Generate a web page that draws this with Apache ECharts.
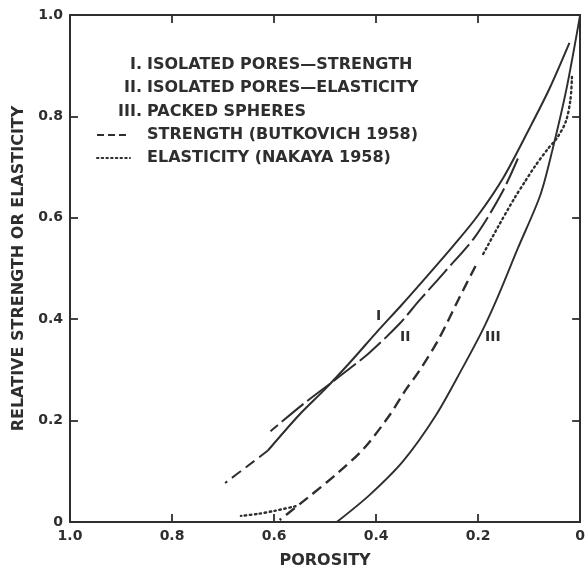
<!DOCTYPE html>
<html>
<head>
<meta charset="utf-8">
<script src="https://cdn.jsdelivr.net/npm/echarts@6/dist/echarts.min.js"></script>
<style>
html,body{margin:0;padding:0;background:#fff;}
#chart{width:588px;height:574px;}
</style>
</head>
<body>
<div id="chart"></div>
<script>
// ---- Data (porosity, relative value) ----
// Curve I: isolated pores — strength (solid)
const curveIPorosity = [0.021, 0.06, 0.10, 0.15, 0.20, 0.25, 0.30, 0.35, 0.40, 0.45, 0.50, 0.55, 0.612];
const curveIValue    = [0.945, 0.855, 0.775, 0.68, 0.605, 0.543, 0.485, 0.428, 0.373, 0.316, 0.262, 0.212, 0.141];
// Dashed extension of curve I at high porosity
const curveIExtPorosity = [0.612, 0.655, 0.696];
const curveIExtValue    = [0.141, 0.108, 0.077];
// Curve II: isolated pores — elasticity (long dash)
const curveIIPorosity = [0.122, 0.153, 0.205, 0.264, 0.316, 0.355, 0.413, 0.477, 0.541, 0.607];
const curveIIValue    = [0.717, 0.650, 0.564, 0.495, 0.436, 0.390, 0.334, 0.283, 0.234, 0.179];
// Curve III: packed spheres (solid)
const curveIIIPorosity = [0.0, 0.027, 0.054, 0.078, 0.122, 0.161, 0.190, 0.231, 0.283, 0.347, 0.413, 0.477];
const curveIIIValue    = [1.0, 0.853, 0.735, 0.645, 0.540, 0.445, 0.381, 0.303, 0.210, 0.120, 0.053, 0.0];
// Strength (Butkovich 1958) — dashed
const butkovichPorosity = [0.205, 0.238, 0.277, 0.316, 0.341, 0.374, 0.424, 0.477, 0.535, 0.589];
const butkovichValue    = [0.505, 0.440, 0.361, 0.297, 0.262, 0.210, 0.145, 0.095, 0.047, 0.004];
// Elasticity (Nakaya 1958) — dotted (two visible stretches)
const nakayaLowPorosity  = [0.558, 0.599, 0.632, 0.665];
const nakayaLowValue     = [0.031, 0.022, 0.016, 0.012];
const nakayaHighPorosity = [0.016, 0.019, 0.028, 0.045, 0.064, 0.089, 0.109, 0.128, 0.161, 0.192];
const nakayaHighValue    = [0.878, 0.833, 0.790, 0.758, 0.735, 0.701, 0.670, 0.640, 0.582, 0.525];

// Tick labels
const xTickLabels = {'1':'1.0','0.8':'0.8','0.6':'0.6','0.4':'0.4','0.2':'0.2','0':'0'};
const yTickLabels = {'1':'1.0','0.8':'0.8','0.6':'0.6','0.4':'0.4','0.2':'0.2','0':'0'};

// Curve labels (position in data coords)
const curveLabels = [
  {name:'I',   porosity:0.395, value:0.405},
  {name:'II',  porosity:0.343, value:0.365},
  {name:'III', porosity:0.171, value:0.365}
];

// Legend texts
const legendRoman = ['I.', 'II.', 'III.', '', ''];
const legendTexts = ['ISOLATED PORES—STRENGTH', 'ISOLATED PORES—ELASTICITY', 'PACKED SPHERES',
                     'STRENGTH (BUTKOVICH 1958)', 'ELASTICITY (NAKAYA 1958)'];

function zip(xs, ys){ return xs.map((x,i)=>[x, ys[i]]); }
function fmt(map){ return v => { const k = String(Math.round(v*10)/10); return map[k] !== undefined ? map[k] : ''; }; }

const INK = '#2e2e2e';
const FONT = '"DejaVu Sans", "Liberation Sans", sans-serif';

const chart = echarts.init(document.getElementById('chart'), null, {renderer:'canvas'});

function axisCommon(){
  return {
    type:'value', min:0, max:1, interval:0.2,
    splitLine:{show:false},
    axisLine:{show:true, onZero:false, lineStyle:{color:INK, width:2}},
    axisTick:{show:true, inside:true, length:8, lineStyle:{color:INK, width:1.8}}
  };
}

const lineSeries = (name, data, type, width) => ({
  name, type:'line', data, symbol:'none', smooth:0.3,
  lineStyle:{color:INK, width: width || 1.9, type: type, cap:'butt'},
  z: 3, animation:false
});

const labelPoints = curveLabels.map(c => ({
  coord:[c.porosity, c.value], symbol:'circle', symbolSize:0,
  label:{show:true, formatter:c.name, position:'inside', color:INK, fontFamily:FONT, fontWeight:'bold', fontSize:14}
}));

const legendGraphics = [];
const rowY = [65, 88, 112, 135, 158];
legendTexts.forEach((t,i)=>{
  if (legendRoman[i]) legendGraphics.push({type:'text', x:142, y:rowY[i],
    style:{text:legendRoman[i], align:'right', verticalAlign:'middle', fill:INK, font:'bold 16px '+FONT}});
  legendGraphics.push({type:'text', x:147, y:rowY[i],
    style:{text:t, align:'left', verticalAlign:'middle', fill:INK, font:'bold 16px '+FONT}});
});
legendGraphics.push({type:'line', shape:{x1:97, y1:rowY[3], x2:129, y2:rowY[3]},
  style:{stroke:INK, lineWidth:1.8, lineDash:[7,4]}});
legendGraphics.push({type:'line', shape:{x1:97, y1:rowY[4], x2:130, y2:rowY[4]},
  style:{stroke:INK, lineWidth:2, lineDash:[1.5,3.2], lineCap:'round'}});

chart.setOption({
  animation:false,
  backgroundColor:'#ffffff',
  grid:{left:70, right:2, top:15, bottom:50},
  xAxis:[
    Object.assign(axisCommon(), {position:'bottom', inverse:true,
      name:'POROSITY', nameLocation:'middle', nameGap:31,
      nameTextStyle:{color:INK, fontFamily:FONT, fontWeight:'bold', fontSize:16},
      axisLabel:{color:INK, fontFamily:FONT, fontWeight:'bold', fontSize:14, margin:7, formatter:fmt(xTickLabels)}}),
    Object.assign(axisCommon(), {position:'top', inverse:true, axisLabel:{show:false}})
  ],
  yAxis:[
    Object.assign(axisCommon(), {position:'left',
      name:'RELATIVE STRENGTH OR ELASTICITY', nameLocation:'middle', nameGap:41,
      nameTextStyle:{color:INK, fontFamily:FONT, fontWeight:'bold', fontSize:16},
      axisLabel:{color:INK, fontFamily:FONT, fontWeight:'bold', fontSize:14, margin:7, formatter:fmt(yTickLabels)}}),
    Object.assign(axisCommon(), {position:'right', axisLabel:{show:false}})
  ],
  graphic: legendGraphics,
  series:[
    Object.assign(lineSeries('I', zip(curveIPorosity, curveIValue), 'solid', 2),
      {markPoint:{data:[labelPoints[0]], animation:false}}),
    lineSeries('I ext', zip(curveIExtPorosity, curveIExtValue), [11,6], 2),
    Object.assign(lineSeries('II', zip(curveIIPorosity, curveIIValue), [28,5], 2),
      {markPoint:{data:[labelPoints[1]], animation:false}}),
    Object.assign(lineSeries('III', zip(curveIIIPorosity, curveIIIValue), 'solid', 1.9),
      {markPoint:{data:[labelPoints[2]], animation:false}}),
    lineSeries('Strength (Butkovich 1958)', zip(butkovichPorosity, butkovichValue), [11,6], 2.4),
    Object.assign(lineSeries('Elasticity (Nakaya 1958)',
      zip(nakayaLowPorosity, nakayaLowValue).concat([[null,null]]).concat(zip(nakayaHighPorosity, nakayaHighValue)),
      [1.5,3.5], 2.4), {connectNulls:false, lineStyle:{color:INK, width:2.4, type:[1.5,3.5], cap:'round'}})
  ]
});
</script>
</body>
</html>
